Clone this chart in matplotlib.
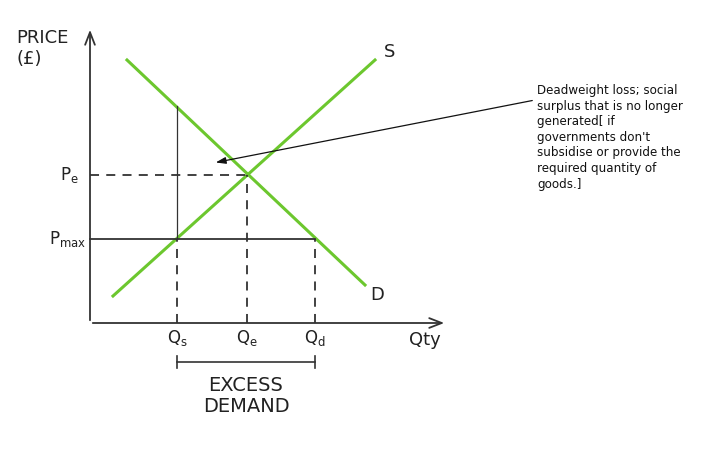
import matplotlib.pyplot as plt

# price ceiling diagram - data units: quantity / price (origin at axis corner)
supply_q = [23, 285]
supply_p = [27, 263]
demand_q = [37, 275]
demand_p = [263, 38]

q_s, q_e, q_d = 87, 157, 225
p_e, p_max = 148, 84
p_dem_at_qs = 217  # demand price at Q_s

q_labels = ["Q$_\\mathregular{s}$", "Q$_\\mathregular{e}$", "Q$_\\mathregular{d}$"]
note = ("Deadweight loss; social\nsurplus that is no longer\ngenerated[ if\n"
        "governments don't\nsubsidise or provide the\nrequired quantity of\ngoods.]")

green = "#6cc72e"
dark = "#333333"

fig = plt.figure(figsize=(7.16, 4.65), dpi=100)
ax = fig.add_axes([0, 0, 1, 1])
ax.set_xlim(-90, 626)
ax.set_ylim(-142, 323)
ax.axis("off")

# axes with open arrow heads
ax.annotate("", xy=(0, 296), xytext=(0, 0),
            arrowprops=dict(arrowstyle="->,head_length=0.9,head_width=0.35", color=dark, lw=1.3))
ax.annotate("", xy=(357, 0), xytext=(0, 0),
            arrowprops=dict(arrowstyle="->,head_length=0.9,head_width=0.35", color=dark, lw=1.3))

# supply & demand
ax.plot(supply_q, supply_p, color=green, lw=2.2)
ax.plot(demand_q, demand_p, color=green, lw=2.2)

# equilibrium dashed guides
ax.plot([0, q_e], [p_e, p_e], color=dark, lw=1.3, ls=(0, (5, 4)))
ax.plot([q_e, q_e], [0, p_e], color=dark, lw=1.3, ls=(0, (5, 4)))

# price ceiling
ax.plot([0, q_d], [p_max, p_max], color=dark, lw=1.3)
ax.plot([q_s, q_s], [0, p_max], color=dark, lw=1.3, ls=(0, (5, 4)))
ax.plot([q_d, q_d], [0, p_max], color=dark, lw=1.3, ls=(0, (5, 4)))
ax.plot([q_s, q_s], [p_max, p_dem_at_qs], color=dark, lw=0.9)

# labels
tfont = dict(color="#222222", family="DejaVu Sans")
ax.text(-74, 285, "PRICE", fontsize=13, ha="left", va="center", **tfont)
ax.text(-74, 264, "(£)", fontsize=13, ha="left", va="center", **tfont)
ax.text(-30, p_e, "P$_\\mathregular{e}$", fontsize=12, ha="left", va="center", **tfont)
ax.text(-4, p_max, "P$_\\mathregular{max}$", fontsize=12, ha="right", va="center", **tfont)
for q, lab in zip([q_s, q_e, q_d], q_labels):
    ax.text(q, -15, lab, fontsize=12, ha="center", va="center", **tfont)
ax.text(335, -17, "Qty", fontsize=13, ha="center", va="center", **tfont)
ax.text(supply_q[1] + 15, supply_p[1] + 8, "S", fontsize=13, ha="center", va="center", **tfont)
ax.text(demand_q[1] + 12, demand_p[1] - 10, "D", fontsize=13, ha="center", va="center", **tfont)

# excess demand bracket
ax.plot([q_s, q_d], [-39, -39], color=dark, lw=1.2)
ax.plot([q_s, q_s], [-33, -45], color=dark, lw=1.2)
ax.plot([q_d, q_d], [-33, -45], color=dark, lw=1.2)
ax.text((q_s + q_d) / 2, -73, "EXCESS\nDEMAND", fontsize=14, ha="center", va="center",
        linespacing=1.1, **tfont)

# deadweight loss note
ax.annotate("", xy=(123, 160), xytext=(445, 223),
            arrowprops=dict(arrowstyle="-|>,head_length=0.6,head_width=0.2", color="#111111", lw=0.9))
ax.text(447, 239, note, fontsize=8.6, ha="left", va="top", linespacing=1.26, color="#111111")

fig.savefig("out.png", dpi=100)
